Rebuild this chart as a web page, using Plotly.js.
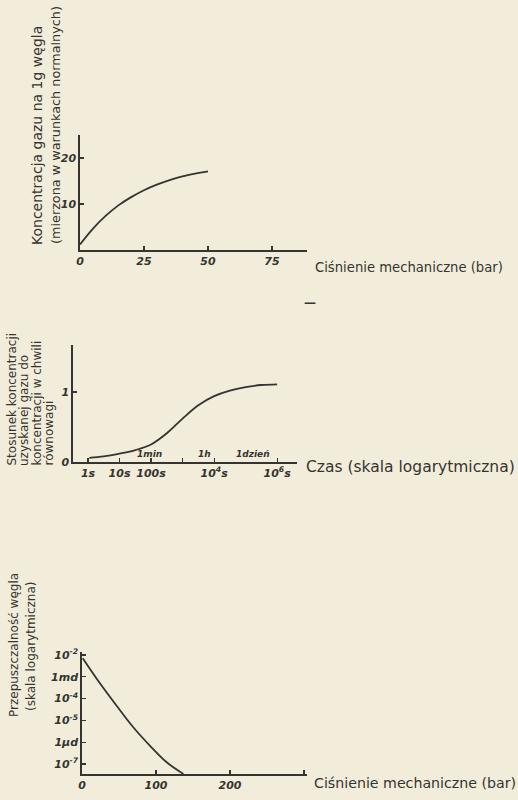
<!DOCTYPE html>
<html>
<head>
<meta charset="utf-8">
<script src="https://cdn.plot.ly/plotly-3.0.1.min.js"></script>
<style>
  html, body { margin: 0; padding: 0; background: #f2eddb; }
  #chart { width: 518px; height: 800px; }
</style>
</head>
<body>
<div id="chart"></div>
<script>
// ---- Chart 1: gas concentration vs mechanical pressure ----
const pressure1 = [0, 5, 10, 15, 20, 25, 30, 35, 40, 45, 50];
const conc1 = [1.2, 4.6, 7.4, 9.7, 11.5, 13.0, 14.2, 15.2, 16.0, 16.6, 17.1];
const xTicks1 = [0, 25, 50, 75];
const xTickText1 = ['0', '25', '50', '75'];
const yTicks1 = [10, 20];
const yTickText1 = ['10', '20'];

// ---- Chart 2: concentration ratio vs time (log scale) ----
const time2 = [1.1, 3.16, 10, 31.6, 100, 316, 1000, 3162, 10000, 31623, 100000, 316228, 1000000];
const ratio2 = [0.06, 0.08, 0.12, 0.17, 0.25, 0.41, 0.62, 0.81, 0.94, 1.02, 1.07, 1.10, 1.11];
const xTicks2 = [1, 10, 100, 10000, 1000000];
const xTickText2 = ['1s', '10s', '100s', '10<sup>4</sup>s', '10<sup>6</sup>s'];
const xMinor2 = [1000];
const upperLabels2 = ['1min', '1h', '1dzień'];
const upperTimes2 = [60, 3600, 86400];
const yTicks2 = [0, 1];
const yTickText2 = ['0', '1'];

// ---- Chart 3: coal permeability vs mechanical pressure ----
const pressure3 = [1, 24, 47, 69, 92, 114, 137];
const perm3 = [7.2e-3, 5.2e-4, 4.6e-5, 5.0e-6, 6.8e-7, 1.23e-7, 3.5e-8];
const xTicks3 = [0, 100, 200];
const xTickText3 = ['0', '100', '200'];
const xMinor3 = [300];
const yTicks3 = [1e-2, 1e-3, 1e-4, 1e-5, 1e-6, 1e-7];
const yTickText3 = ['10<sup>-2</sup>', '1md', '10<sup>-4</sup>', '10<sup>-5</sup>', '1μd', '10<sup>-7</sup>'];

const W = 518, H = 800;
const ink = '#35342f';
const px = v => v / W;
const py = v => 1 - v / H;
const tickFont = {family: 'DejaVu Sans', size: 11, color: ink, weight: 'bold', style: 'italic'};
const titleFont = {family: 'DejaVu Sans', size: 12, color: ink};
const f = (size, extra) => Object.assign({}, titleFont, {size: size}, extra || {});

function axisBase(extra) {
  return Object.assign({
    showgrid: false, zeroline: false, showline: true, linecolor: ink, linewidth: 1.7,
    ticks: 'inside', ticklen: 4, tickwidth: 1.2, tickcolor: ink,
    tickfont: tickFont, tickmode: 'array', fixedrange: true
  }, extra);
}

const lineStyle = {color: ink, width: 1.8, shape: 'spline', smoothing: 1};

const traces = [
  {x: pressure1, y: conc1, xaxis: 'x', yaxis: 'y', mode: 'lines', line: lineStyle, hoverinfo: 'skip'},
  {x: time2, y: ratio2, xaxis: 'x2', yaxis: 'y2', mode: 'lines', line: lineStyle, hoverinfo: 'skip'},
  {x: pressure3, y: perm3, xaxis: 'x3', yaxis: 'y3', mode: 'lines', line: lineStyle, hoverinfo: 'skip'}
];

const annotations = [];
function addText(text, x, y, opts) {
  annotations.push(Object.assign({
    text: text, x: x, y: y, xref: 'paper', yref: 'paper', showarrow: false,
    font: titleFont, xanchor: 'center', yanchor: 'middle'
  }, opts || {}));
}

// chart 1 titles
addText('Koncentracja gazu na 1g węgla', px(37), py(136), {textangle: -90, font: f(14)});
addText('(mierzona w warunkach normalnych)', px(55), py(125), {textangle: -90, font: f(12.8)});
addText('Ciśnienie mechaniczne (bar)', px(313), py(267), {xanchor: 'left', font: f(13.2)});

// chart 2 titles
const y2lines = ['Stosunek koncentracji', 'uzyskanej gazu do', 'koncentracji w chwili', 'równowagi'];
const y2x = [11, 23.5, 36, 48];
y2lines.forEach((t, i) => addText(t, px(y2x[i]), py(468), {textangle: -90, yanchor: 'bottom', font: f(12)}));
addText('Czas (skala logarytmiczna)', px(304), py(467), {xanchor: 'left', font: f(15.5)});
const upperShift2 = [5, 4, 9];
upperLabels2.forEach((t, i) => annotations.push({
  text: t, x: Math.log10(upperTimes2[i]), y: 0, xref: 'x2', yref: 'y2', showarrow: false,
  xanchor: 'center', yanchor: 'bottom', yshift: 1, xshift: upperShift2[i], font: Object.assign({}, tickFont, {size: 9})
}));

// chart 3 titles
addText('Przepuszczalność węgla', px(14), py(645), {textangle: -90, font: f(12)});
addText('(skala logarytmiczna)', px(31), py(647), {textangle: -90, font: f(12)});
addText('Ciśnienie mechaniczne (bar)', px(312), py(783), {xanchor: 'left', font: f(14.2)});

// stray dash mark on page
addText('—', px(310), py(303), {font: {family: 'DejaVu Sans', size: 12, color: ink, weight: 'bold'}});

const minorStyle = {ticks: 'inside', ticklen: 4, tickwidth: 1.2, tickcolor: ink, showgrid: false};

const layout = {
  width: W, height: H,
  margin: {l: 0, r: 0, t: 0, b: 0},
  paper_bgcolor: '#f2eddb', plot_bgcolor: 'rgba(0,0,0,0)',
  showlegend: false,
  xaxis: axisBase({domain: [px(80), px(307)], range: [0, 88.7], tickvals: xTicks1, ticktext: xTickText1, anchor: 'y'}),
  yaxis: axisBase({domain: [py(250), py(135)], range: [0, 25], tickvals: yTicks1, ticktext: yTickText1, anchor: 'x'}),
  xaxis2: axisBase({domain: [px(73), px(297)], type: 'log', range: [-0.476, 6.63], tickvals: xTicks2, ticktext: xTickText2, anchor: 'y2',
    minor: Object.assign({tickmode: 'array', tickvals: xMinor2}, minorStyle)}),
  yaxis2: axisBase({domain: [py(462), py(345)], range: [0, 1.671], tickvals: yTicks2, ticktext: yTickText2, anchor: 'x2'}),
  xaxis3: axisBase({domain: [px(82), px(307)], range: [0, 304], tickvals: xTicks3, ticktext: xTickText3, anchor: 'y3',
    minor: Object.assign({tickmode: 'array', tickvals: xMinor3}, minorStyle)}),
  yaxis3: axisBase({domain: [py(774), py(652)], type: 'log', range: [-7.46, -1.86], tickvals: yTicks3, ticktext: yTickText3, anchor: 'x3'}),
  annotations: annotations
};

Plotly.newPlot('chart', traces, layout, {staticPlot: true, displayModeBar: false});
</script>
</body>
</html>
